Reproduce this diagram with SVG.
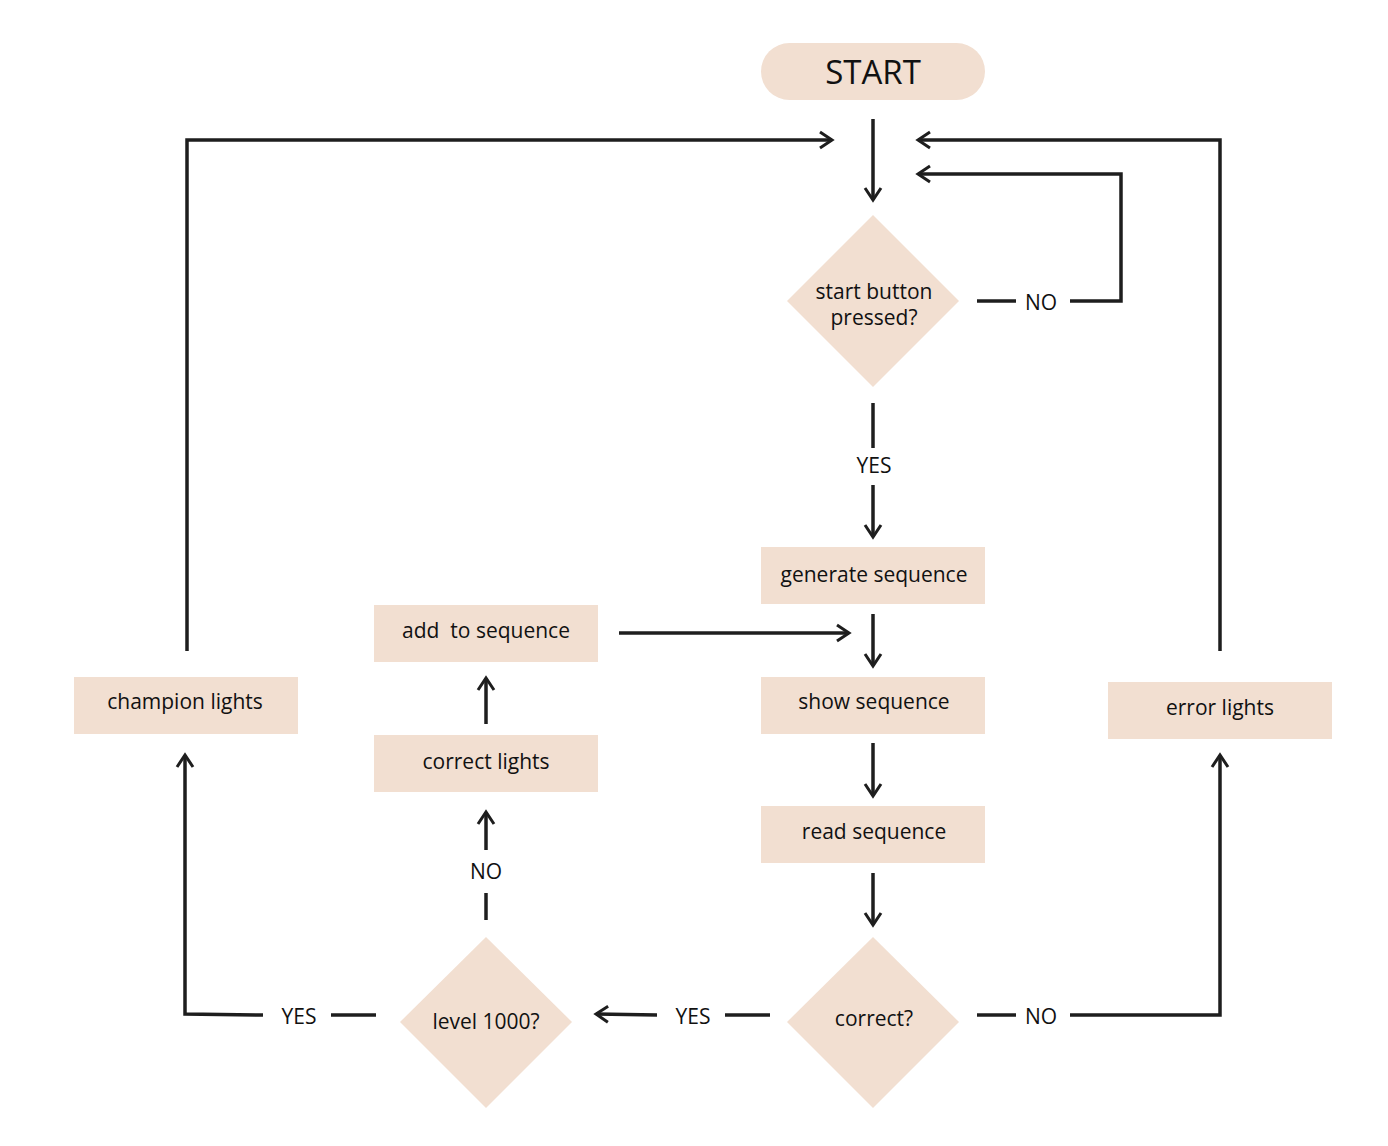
<svg xmlns="http://www.w3.org/2000/svg" width="1388" height="1146" viewBox="0 0 1388 1146">
<defs>
<marker id="ah" viewBox="0 0 20 20" refX="16" refY="10" markerWidth="20" markerHeight="20" markerUnits="userSpaceOnUse" orient="auto">
<path d="M4 2 L16 10 L4 18" fill="none" stroke="#1e1e1e" stroke-width="3"/>
</marker>
</defs>
<style>
.n{fill:#f2dfd1}
.t{font-family:"Open Sans",Lato,"Liberation Sans",sans-serif;font-size:21px;fill:#111;text-anchor:middle;white-space:pre}
.l{fill:none;stroke:#1e1e1e;stroke-width:3.5}
.a{fill:none;stroke:#1e1e1e;stroke-width:3.5;marker-end:url(#ah)}
</style>
<rect width="1388" height="1146" fill="#fff"/>
<g id="start"><rect class="n" x="761" y="43" width="224" height="57" rx="28.5"/><text class="t" x="873" y="84" style="font-size:33px">START</text></g>
<g id="d-start"><polygon class="n" points="873,215 959,301 873,387 787,301"/><text class="t" x="874" y="299">start button</text><text class="t" x="874" y="325">pressed?</text></g>
<g id="generate"><rect class="n" x="761" y="547" width="224" height="57"/><text class="t" x="874" y="582">generate sequence</text></g>
<g id="show"><rect class="n" x="761" y="677" width="224" height="57"/><text class="t" x="874" y="709">show sequence</text></g>
<g id="read"><rect class="n" x="761" y="806" width="224" height="57"/><text class="t" x="874" y="839">read sequence</text></g>
<g id="d-correct"><polygon class="n" points="873,937 959,1022 873,1108 787,1022"/><text class="t" x="874" y="1026">correct?</text></g>
<g id="d-level"><polygon class="n" points="486,937 572,1022 486,1108 400,1022"/><text class="t" x="486" y="1029">level 1000?</text></g>
<g id="correct-lights"><rect class="n" x="374" y="735" width="224" height="57"/><text class="t" x="486" y="769">correct lights</text></g>
<g id="add"><rect class="n" x="374" y="605" width="224" height="57"/><text class="t" x="486" y="638" xml:space="preserve">add  to sequence</text></g>
<g id="champion"><rect class="n" x="74" y="677" width="224" height="57"/><text class="t" x="185" y="709">champion lights</text></g>
<g id="error"><rect class="n" x="1108" y="682" width="224" height="57"/><text class="t" x="1220" y="715">error lights</text></g>
<g id="connectors">
<line class="a" x1="873" y1="119" x2="873" y2="200"/>
<polyline class="a" points="187,651 187,140 832,140"/>
<polyline class="a" points="1220,651 1220,140 918,140"/>
<line class="l" x1="977" y1="301" x2="1016" y2="301"/>
<text class="t" x="1041" y="310">NO</text>
<polyline class="a" points="1070,301 1121,301 1121,174 918,174"/>
<line class="l" x1="873" y1="403" x2="873" y2="448"/>
<text class="t" x="874" y="473">YES</text>
<line class="a" x1="873" y1="485" x2="873" y2="537"/>
<line class="a" x1="873" y1="614" x2="873" y2="666"/>
<line class="a" x1="873" y1="743" x2="873" y2="796"/>
<line class="a" x1="873" y1="873" x2="873" y2="925"/>
<line class="l" x1="977" y1="1015" x2="1016" y2="1015"/>
<text class="t" x="1041" y="1024">NO</text>
<polyline class="a" points="1070,1015 1220,1015 1220,755"/>
<line class="l" x1="725" y1="1015" x2="770" y2="1015"/>
<text class="t" x="693" y="1024">YES</text>
<line class="a" x1="657" y1="1015" x2="596" y2="1014"/>
<line class="l" x1="331" y1="1015" x2="376" y2="1015"/>
<text class="t" x="299" y="1024">YES</text>
<polyline class="a" points="263,1015 185,1014 185,755"/>
<line class="l" x1="486" y1="920" x2="486" y2="893"/>
<text class="t" x="486" y="879">NO</text>
<line class="a" x1="486" y1="850" x2="486" y2="812"/>
<line class="a" x1="486" y1="724" x2="486" y2="678"/>
<line class="a" x1="619" y1="633" x2="849" y2="633"/>
</g>
</svg>
